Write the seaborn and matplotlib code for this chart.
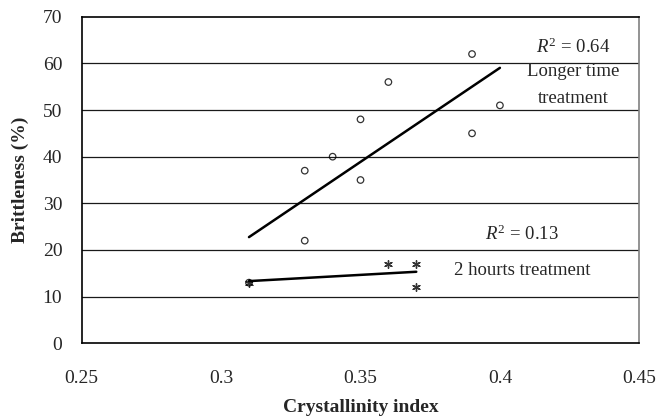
import matplotlib
matplotlib.use("Agg")
import matplotlib.pyplot as plt
import seaborn as sns
import pandas as pd

# Longer time treatment
long_ci = [0.31, 0.33, 0.33, 0.34, 0.35, 0.35, 0.36, 0.39, 0.39, 0.40]
long_brit = [13, 22, 37, 40, 35, 48, 56, 62, 45, 51]

# 2 hours treatment
short_ci = [0.31, 0.36, 0.37, 0.37]
short_brit = [13, 17, 17, 12]

x_ticks = [0.25, 0.3, 0.35, 0.4, 0.45]
y_ticks = [0, 10, 20, 30, 40, 50, 60, 70]

sns.set_style("white")
plt.rcParams["font.family"] = ["Liberation Serif", "DejaVu Serif"]
plt.rcParams["mathtext.fontset"] = "custom"
plt.rcParams["mathtext.rm"] = "Liberation Serif"
plt.rcParams["mathtext.it"] = "Liberation Serif:italic"

long_df = pd.DataFrame({"ci": long_ci, "brit": long_brit})
short_df = pd.DataFrame({"ci": short_ci, "brit": short_brit})

fig = plt.figure(figsize=(6.61, 4.2), dpi=100)
ax = fig.add_axes([0.1236, 0.1826, 0.9672 - 0.1236, 0.9602 - 0.1826])

for y in y_ticks[1:-1]:
    ax.axhline(y, color="#1a1a1a", lw=0.9, zorder=0)

sns.regplot(data=short_df, x="ci", y="brit", ax=ax, ci=None, marker=(6, 2, 0),
            scatter_kws={"color": "black", "s": 30, "linewidths": 1.0, "zorder": 3},
            line_kws={"color": "black", "lw": 1.8, "zorder": 2})
sns.regplot(data=long_df, x="ci", y="brit", ax=ax, ci=None, marker="o",
            scatter_kws={"facecolors": "none", "edgecolors": "black", "s": 22,
                         "linewidths": 0.9, "zorder": 3},
            line_kws={"color": "black", "lw": 1.8, "zorder": 2})

ax.set_xlim(0.25, 0.45)
ax.set_ylim(0, 70)
ax.set_xticks(x_ticks)
ax.set_xticklabels(["0.25", "0.3", "0.35", "0.4", "0.45"])
ax.set_yticks(y_ticks)
ax.tick_params(axis="x", direction="in", length=6, width=0.8, color="black",
               pad=19, labelsize=14)
ax.tick_params(axis="y", length=0, pad=14, labelsize=14)

for side in ["left", "bottom", "top"]:
    ax.spines[side].set_color("black")
    ax.spines[side].set_linewidth(1.2)
ax.spines["right"].set_color("#808080")
ax.spines["right"].set_linewidth(1.2)

ax.set_xlabel("Crystallinity index", fontsize=14, fontweight="bold", labelpad=9)
ax.set_ylabel("Brittleness (%)", fontsize=14, fontweight="bold", labelpad=10)

ax.text(0.4262, 63.4, r"$R^2$ = 0.64", fontsize=13.5, ha="center", va="center")
ax.text(0.4262, 58.3, "Longer time", fontsize=13.5, ha="center", va="center")
ax.text(0.4262, 52.5, "treatment", fontsize=13.5, ha="center", va="center")
ax.text(0.408, 23.4, r"$R^2$ = 0.13", fontsize=13.5, ha="center", va="center")
ax.text(0.408, 15.6, "2 hourts treatment", fontsize=13.5, ha="center", va="center")

fig.savefig("out.png", dpi=100)
